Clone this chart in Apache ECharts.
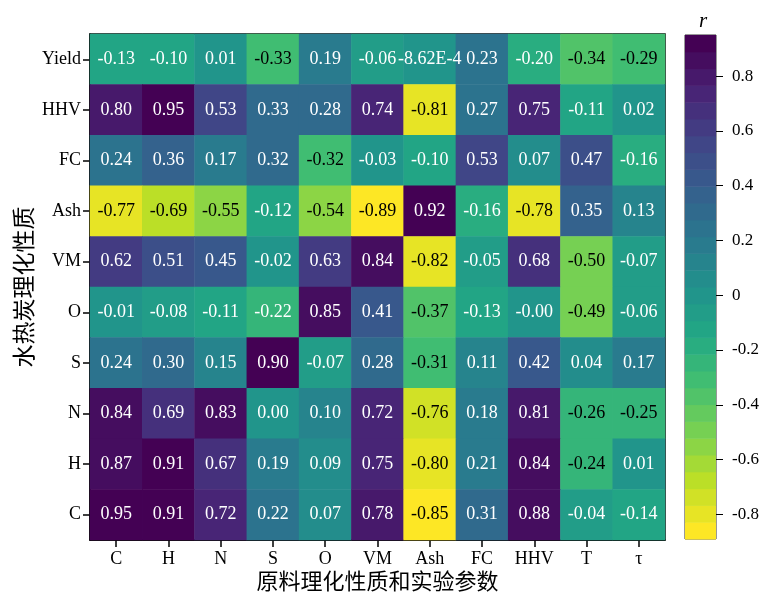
<!DOCTYPE html>
<html><head><meta charset="utf-8">
<script src="https://cdn.jsdelivr.net/npm/echarts@6/dist/echarts.min.js"></script>
<style>html,body{margin:0;padding:0;background:#fff}#c{width:762px;height:592px}</style>
</head><body><div id="c"></div>
<script>
var xCats = ['C','H','N','S','O','VM','Ash','FC','HHV','T','τ'];
var yCats = ['Yield','HHV','FC','Ash','VM','O','S','N','H','C'];
var rowYield = [-0.13,-0.10,0.01,-0.33,0.19,-0.06,-0.000862,0.23,-0.20,-0.34,-0.29];
var rowHHV   = [0.80,0.95,0.53,0.33,0.28,0.74,-0.81,0.27,0.75,-0.11,0.02];
var rowFC    = [0.24,0.36,0.17,0.32,-0.32,-0.03,-0.10,0.53,0.07,0.47,-0.16];
var rowAsh   = [-0.77,-0.69,-0.55,-0.12,-0.54,-0.89,0.92,-0.16,-0.78,0.35,0.13];
var rowVM    = [0.62,0.51,0.45,-0.02,0.63,0.84,-0.82,-0.05,0.68,-0.50,-0.07];
var rowO     = [-0.01,-0.08,-0.11,-0.22,0.85,0.41,-0.37,-0.13,-0.001,-0.49,-0.06];
var rowS     = [0.24,0.30,0.15,0.90,-0.07,0.28,-0.31,0.11,0.42,0.04,0.17];
var rowN     = [0.84,0.69,0.83,0.00,0.10,0.72,-0.76,0.18,0.81,-0.26,-0.25];
var rowH     = [0.87,0.91,0.67,0.19,0.09,0.75,-0.80,0.21,0.84,-0.24,0.01];
var rowC     = [0.95,0.91,0.72,0.22,0.07,0.78,-0.85,0.31,0.88,-0.04,-0.14];
var rows = [rowYield,rowHHV,rowFC,rowAsh,rowVM,rowO,rowS,rowN,rowH,rowC];
var cbTicks = [-0.8,-0.6,-0.4,-0.2,0,0.2,0.4,0.6,0.8];
var vMin = -0.89, vMax = 0.95, nLevels = 30;

var viridis = ['#440154','#482475','#414487','#355f8d','#2a788e','#21918c','#22a884','#44bf70','#7ad151','#bddf26','#fde725'];
function hex2rgb(h){return [parseInt(h.substr(1,2),16),parseInt(h.substr(3,2),16),parseInt(h.substr(5,2),16)];}
function cmap(t){ // t: 0 -> purple, 1 -> yellow
  t=Math.max(0,Math.min(1,t));
  var p=t*(viridis.length-1), i=Math.min(Math.floor(p),viridis.length-2), f=p-i;
  var a=hex2rgb(viridis[i]), b=hex2rgb(viridis[i+1]);
  return 'rgb('+Math.round(a[0]+(b[0]-a[0])*f)+','+Math.round(a[1]+(b[1]-a[1])*f)+','+Math.round(a[2]+(b[2]-a[2])*f)+')';
}
var step=(vMax-vMin)/nLevels;
function levelOf(v){return Math.max(0,Math.min(nLevels-1,Math.floor((v-vMin)/step)));}
function levelColor(k){return cmap(1-k/(nLevels-1));}
function fmt(v){ if(v!==0 && Math.abs(v)<0.001) return v.toExponential(2).toUpperCase(); return v.toFixed(2);}

var data=[];
rows.forEach(function(r,yi){ r.forEach(function(v,xi){
  data.push({value:[xi,yi,v], itemStyle:{color:levelColor(levelOf(v))},
    label:{color: v < -0.23 ? '#000' : '#fff'}});
});});
var cbData=[];
for(var k=0;k<nLevels;k++){cbData.push([0, vMin+k*step, vMin+(k+1)*step, k]);}

var font='"Liberation Serif","Times New Roman","Noto Sans CJK SC",serif';
var chart=echarts.init(document.getElementById('c'),null,{renderer:'canvas'});
chart.setOption({
  animation:false,
  textStyle:{fontFamily:font},
  grid:[{left:90,top:34,right:97,bottom:52,outerBoundsMode:'none',containLabel:false,show:true,borderColor:'#000',borderWidth:1.5,backgroundColor:'transparent'},
        {left:685,top:35,width:31,height:504,outerBoundsMode:'none',containLabel:false,show:true,borderColor:'#333',borderWidth:1}],
  xAxis:[{type:'category',data:xCats,gridIndex:0,
      axisLine:{show:true,lineStyle:{color:'#000',width:1.5}},
      axisTick:{show:true,alignWithLabel:true,length:7,lineStyle:{color:'#000',width:1.5}},
      axisLabel:{color:'#000',fontSize:18,fontFamily:font,margin:10},
      name:'原料理化性质和实验参数',nameLocation:'middle',nameGap:32,nameMoveOverlap:false,
      nameTextStyle:{color:'#000',fontSize:22,fontFamily:font},splitLine:{show:false}},
    {type:'category',data:['r'],gridIndex:1,show:false}],
  yAxis:[{type:'category',data:yCats,gridIndex:0,inverse:true,
      axisLine:{show:true,lineStyle:{color:'#000',width:1.5}},
      axisTick:{show:true,alignWithLabel:true,length:7,lineStyle:{color:'#000',width:1.5}},
      axisLabel:{color:'#000',fontSize:18,fontFamily:font,margin:9},
      name:'水热炭理化性质',nameLocation:'middle',nameGap:53,nameRotate:90,nameMoveOverlap:false,
      nameTextStyle:{color:'#000',fontSize:23,fontFamily:font}},
    {type:'value',gridIndex:1,position:'right',min:vMin,max:vMax,
      axisLine:{show:false},splitLine:{show:false},
      axisTick:{show:true,length:7,customValues:cbTicks,lineStyle:{color:'#000',width:1}},
      axisLabel:{show:true,customValues:cbTicks,color:'#000',fontSize:17,fontFamily:font,margin:16,
        formatter:function(v){return Math.abs(v)<1e-9?'0':(Math.round(v*10)/10).toFixed(1);}}}],
  title:{text:'r',left:694,top:6,textStyle:{fontStyle:'italic',fontWeight:'normal',fontSize:21,fontFamily:font,color:'#000'}},
  series:[{type:'heatmap',xAxisIndex:0,yAxisIndex:0,data:data,
      label:{show:true,fontSize:18,fontFamily:font,formatter:function(p){return fmt(p.value[2]);}},
      emphasis:{disabled:true}},
    {type:'custom',xAxisIndex:1,yAxisIndex:1,data:cbData,
      renderItem:function(params,api){
        var top=api.coord([0,api.value(2)]), bot=api.coord([0,api.value(1)]);
        var w=api.size([1,0])[0];
        return {type:'rect',shape:{x:top[0]-w/2,y:top[1],width:w,height:bot[1]-top[1]+0.5},
          style:{fill:levelColor(api.value(3))}};
      }}]
});
</script></body></html>
